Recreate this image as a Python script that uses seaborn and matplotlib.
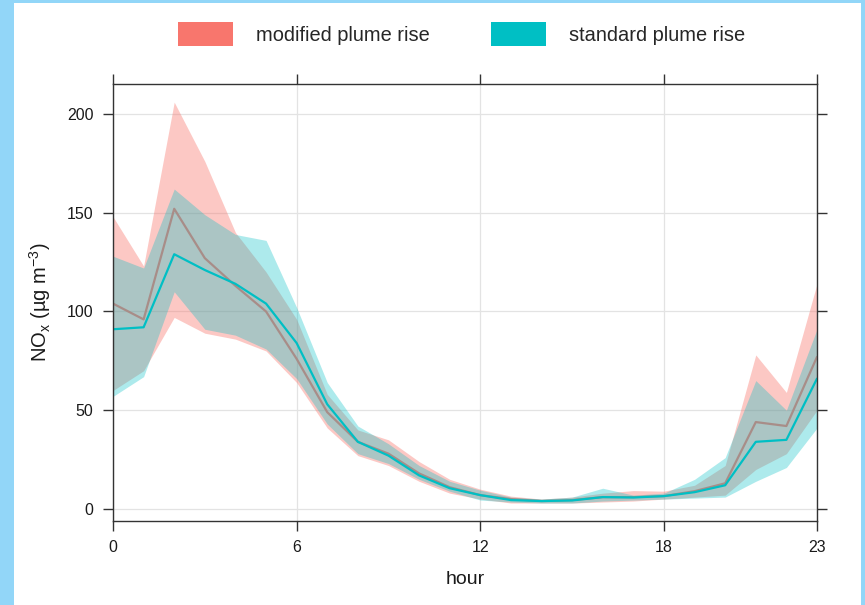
import numpy as np
import pandas as pd
import matplotlib
matplotlib.use('Agg')
import matplotlib.pyplot as plt
from matplotlib.patches import Rectangle, Patch
import seaborn as sns

# hourly NOx, mean and ribbon bounds
hours = list(range(24))
mod_mean = [104, 96, 152, 127, 113, 100, 76, 49, 34, 28, 18, 11, 7, 5, 4, 4.5,
            6, 6, 6.5, 9, 13, 44, 42, 77]
mod_lower = [60, 70, 97, 89, 86, 80, 64, 41, 27, 22, 14, 8, 5, 3, 3, 3,
             3.5, 4, 5, 6, 7, 20, 28, 50]
mod_upper = [148, 123, 206, 176, 140, 120, 96, 58, 40, 35, 24, 15, 10, 6.5, 5, 6,
             8, 9.3, 9, 12, 22, 78, 59, 114]
std_mean = [91, 92, 129, 121, 114, 104, 84, 53, 34, 27, 17, 10.5, 7, 4.5, 4, 4.3,
            6, 5.8, 6.5, 8.5, 12, 34, 35, 66]
std_lower = [57, 67, 110, 91, 88, 81, 66, 43, 28, 23, 15, 9, 4.5, 3.5, 3, 3,
             4, 4.5, 5, 5.5, 6, 14, 21, 41]
std_upper = [128, 122, 162, 149, 139, 136, 102, 64, 42, 33, 22, 14, 9.5, 6, 5, 6,
             10.5, 7, 8, 15, 26, 65, 50, 91]

series_names = ['modified plume rise', 'standard plume rise']
colors = {'modified plume rise': '#F8766D', 'standard plume rise': '#00BFC4'}
alphas = {'modified plume rise': 0.4, 'standard plume rise': 0.32}

x_ticks = [0, 6, 12, 18, 23]
y_ticks = [0, 50, 100, 150, 200]

df = pd.concat([
    pd.DataFrame({'hour': hours, 'mean': mod_mean, 'lower': mod_lower,
                  'upper': mod_upper, 'scenario': series_names[0]}),
    pd.DataFrame({'hour': hours, 'mean': std_mean, 'lower': std_lower,
                  'upper': std_upper, 'scenario': series_names[1]}),
])

sns.set_theme(style='white')
plt.rcParams['font.family'] = ['Liberation Sans', 'DejaVu Sans']

fig = plt.figure(figsize=(8.65, 6.05), dpi=100, facecolor='#92d6f8')
# white panel inside the light blue frame (kept behind the axes)
fig.patches.append(Rectangle((14 / 865, 0), (861 - 14) / 865, (605 - 3) / 605,
                             transform=fig.transFigure, facecolor='white',
                             edgecolor='none', zorder=-10))
ax = fig.add_axes([113 / 865, 1 - 521 / 605, 704 / 865, 437 / 605])
ax.set_facecolor('white')

# ribbon then line for each scenario; zorder keeps the modified line
# under the teal ribbon, which tints it grey-brown
for i, name in enumerate(series_names):
    sub = df[df['scenario'] == name]
    ax.fill_between(sub['hour'], sub['lower'], sub['upper'],
                    color=colors[name], alpha=alphas[name], linewidth=0,
                    zorder=2 + 2 * i)
    sns.lineplot(data=sub, x='hour', y='mean', color=colors[name],
                 linewidth=1.6, ax=ax, legend=False, zorder=3 + 2 * i)

ax.set_xlim(0, 23)
ax.set_ylim(-6.1, 215.2)
ax.set_xticks(x_ticks)
ax.set_yticks(y_ticks)
ax.grid(True, color='#e3e3e3', linewidth=0.9)
ax.set_axisbelow(True)

for sp in ax.spines.values():
    sp.set_visible(True)
    sp.set_color('#333333')
    sp.set_linewidth(1.0)
    sp.set_zorder(10)
ax.tick_params(axis='both', which='both', direction='out', length=7, width=1,
               color='#333333', labelsize=11.5, labelcolor='#1a1a1a',
               top=True, right=True, bottom=True, left=True,
               labeltop=False, labelright=False, pad=7)

ax.set_xlabel('hour', fontsize=14, color='#1a1a1a', labelpad=11)
ax.set_ylabel(r'NO$_\mathregular{x}$ (µg m$^\mathregular{-3}$)', fontsize=14.5,
              color='#1a1a1a', labelpad=10)

handles = [Patch(facecolor=colors[n], edgecolor='none') for n in series_names]
fig.legend(handles, series_names, loc='center', bbox_to_anchor=(0.5335, 1 - 34 / 605),
           ncol=2, frameon=False, fontsize=14.4, handlelength=2.75, handleheight=1.45,
           handletextpad=1.15, columnspacing=3.05)

fig.savefig('out.png', dpi=100, facecolor=fig.get_facecolor())
